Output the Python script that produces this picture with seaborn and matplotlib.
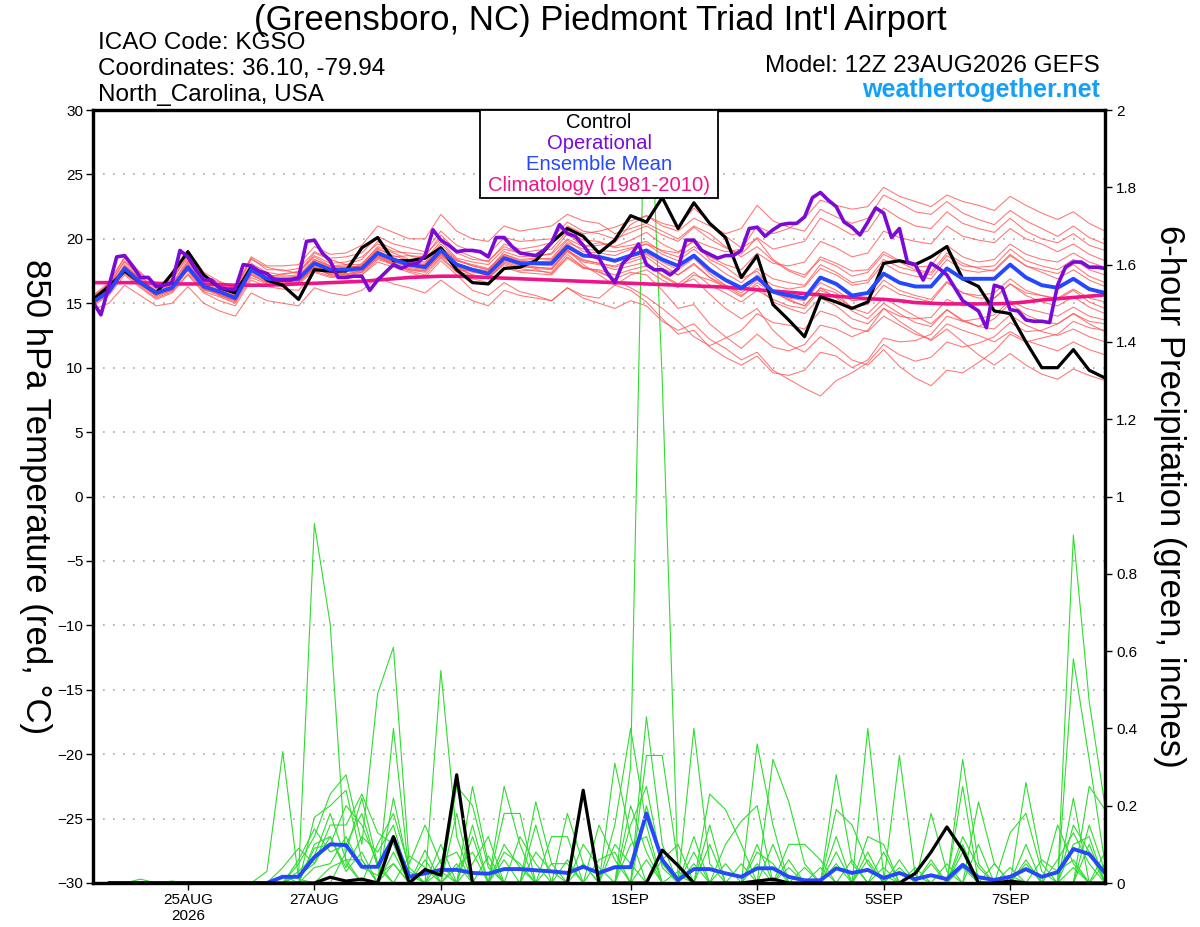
import numpy as np
import pandas as pd
import matplotlib
matplotlib.use("Agg")
import matplotlib.pyplot as plt
from matplotlib.patches import Rectangle
from matplotlib.ticker import FuncFormatter
import seaborn as sns

sns.set_style("ticks")
plt.rcParams['font.family'] = ['Liberation Sans', 'DejaVu Sans']
plt.rcParams['text.color'] = 'black'
plt.rcParams['axes.labelcolor'] = 'black'
plt.rcParams['xtick.color'] = 'black'
plt.rcParams['ytick.color'] = 'black'

# =========================
# DATA (12Z 23AUG2026 run)
# =========================
run_start = pd.Timestamp("2026-08-23 12:00")
tick_dates = ["2026-08-25", "2026-08-27", "2026-08-29", "2026-09-01",
              "2026-09-03", "2026-09-05", "2026-09-07"]
tick_labels = ["25AUG\n2026", "27AUG", "29AUG", "1SEP", "3SEP", "5SEP", "7SEP"]

# 850 hPa temperature, 6-hourly, 0..384 h
control_temp = [15.3, 16.3, 17.5, 16.6, 15.8, 17.3, 19.0, 17.2, 16.2, 15.8, 17.8, 16.8, 16.4,
                15.3, 17.6, 17.5, 17.5, 19.3, 20.1, 18.3, 18.3, 18.5, 19.3, 17.6, 16.6, 16.5,
                17.7, 17.8, 18.3, 19.7, 20.8, 20.2, 18.9, 19.9, 21.8, 21.3, 23.2, 20.8, 22.8,
                21.2, 20.1, 17.0, 18.7, 14.9, 13.7, 12.4, 15.5, 15.1, 14.6, 15.1, 18.1, 18.3,
                18.0, 18.6, 19.4, 16.9, 16.3, 14.4, 14.2, 12.0, 10.0, 10.0, 11.4, 9.8, 9.2]

mean_temp = [15.1, 15.9, 17.7, 16.6, 15.8, 16.2, 17.8, 16.3, 15.9, 15.4, 17.6, 16.9, 16.8,
             16.9, 18.1, 17.6, 17.6, 17.7, 18.9, 18.4, 18.0, 17.8, 19.1, 18.0, 17.6, 17.3,
             18.5, 18.1, 18.1, 18.1, 19.4, 18.7, 18.6, 18.3, 18.7, 19.1, 18.4, 17.9, 18.7,
             17.6, 16.8, 16.2, 17.0, 15.9, 15.6, 15.4, 17.0, 16.5, 15.6, 15.8, 17.3, 16.6,
             16.3, 16.3, 17.7, 16.9, 16.9, 16.9, 18.0, 17.0, 16.4, 16.2, 16.9, 16.1, 15.8]

climo_temp = [16.6, 16.6, 16.6, 16.6, 16.55, 16.5, 16.5, 16.5, 16.45, 16.4, 16.4, 16.4, 16.45,
              16.5, 16.55, 16.6, 16.65, 16.7, 16.8, 16.9, 17.0, 17.05, 17.1, 17.1, 17.05, 17.0,
              16.95, 16.9, 16.85, 16.8, 16.75, 16.7, 16.65, 16.6, 16.55, 16.5, 16.45, 16.4, 16.35,
              16.3, 16.25, 16.15, 16.05, 15.95, 15.85, 15.75, 15.65, 15.55, 15.45, 15.35, 15.3, 15.2,
              15.05, 15.0, 14.95, 14.95, 14.95, 14.95, 15.0, 15.1, 15.25, 15.35, 15.45, 15.55, 15.65]

# operational run, 3-hourly, 0..384 h
oper_temp = [15.1, 14.1, 16.3, 18.6, 18.7, 17.9, 17.0, 17.0, 16.3, 16.4, 16.6, 19.1, 18.6,
             17.6, 16.8, 16.8, 16.2, 16.1, 16.1, 18.0, 17.9, 17.5, 17.3, 16.8, 16.8, 16.8,
             17.0, 19.8, 19.9, 18.9, 18.3, 17.0, 17.0, 17.1, 17.1, 16.0, 16.8, 17.4, 18.0,
             17.7, 18.0, 18.1, 18.7, 20.7, 19.9, 19.5, 19.0, 19.1, 19.1, 19.0, 18.6, 20.1,
             20.1, 19.4, 18.9, 18.8, 18.7, 19.1, 19.7, 21.1, 20.4, 20.2, 19.5, 18.7, 18.5,
             17.4, 16.6, 18.1, 18.7, 19.6, 18.0, 17.6, 17.6, 17.2, 17.7, 19.9, 19.9, 19.1,
             18.8, 18.5, 18.7, 18.7, 19.1, 20.8, 20.9, 20.2, 20.7, 21.1, 21.2, 21.2, 21.7,
             23.2, 23.6, 23.0, 22.5, 21.3, 20.9, 20.3, 21.3, 22.4, 22.0, 20.1, 20.8, 18.2,
             18.0, 16.8, 18.1, 17.7, 17.2, 16.2, 15.2, 14.8, 14.4, 13.1, 16.4, 16.2, 14.5,
             14.4, 13.7, 13.6, 13.6, 13.5, 16.4, 17.8, 18.2, 18.2, 17.8, 17.8, 17.7]

# ensemble members, 6-hourly
temp_members = [
    [15.4, 16.5, 18.2, 17.0, 16.2, 16.9, 18.6, 17.0, 16.4, 16.0, 18.4, 17.8, 17.5, 17.7, 19.0, 18.5, 18.6,
     18.9, 20.2, 19.6, 19.3, 19.0, 20.6, 19.5, 19.0, 18.8, 20.1, 19.8, 19.9, 20.0, 21.3, 20.6, 20.4,
     20.0, 20.5, 21.0, 20.3, 19.8, 20.9, 20.0, 19.3, 18.8, 20.1, 19.2, 19.5, 19.8, 21.6, 21.0, 20.3,
     20.6, 22.4, 21.6, 21.0, 20.8, 22.1, 21.2, 20.8, 20.5, 21.6, 20.6, 20.0, 19.7, 20.4, 19.5, 19.1],
    [14.8, 15.6, 17.2, 16.2, 15.3, 15.8, 17.2, 15.8, 15.2, 14.8, 16.8, 16.3, 16.1, 16.0, 17.4, 17.0, 17.1,
     17.2, 18.2, 17.8, 17.4, 17.0, 18.3, 17.2, 16.0, 15.6, 16.6, 15.9, 15.6, 15.2, 16.2, 15.4, 15.0,
     14.6, 15.2, 14.8, 13.6, 12.9, 13.4, 12.2, 11.5, 10.6, 11.2, 9.8, 9.1, 8.4, 7.8, 9.0, 9.6,
     10.4, 11.8, 11.0, 10.5, 10.8, 12.0, 11.6, 11.9, 12.4, 13.5, 12.8, 12.9, 13.4, 14.2, 13.6, 13.4],
    [15.0, 16.0, 18.0, 16.9, 15.9, 16.0, 18.3, 16.6, 15.6, 15.2, 17.9, 17.0, 17.3, 17.4, 18.6, 17.9, 17.4,
     18.1, 19.3, 18.6, 18.7, 18.4, 19.8, 18.5, 18.2, 18.0, 19.2, 18.9, 18.6, 18.9, 20.4, 19.4, 19.7,
     19.4, 19.9, 20.5, 19.6, 19.0, 19.8, 18.4, 17.8, 16.9, 17.5, 16.0, 15.2, 14.8, 16.2, 15.8, 14.6,
     14.2, 15.4, 14.7, 14.0, 13.4, 14.5, 13.6, 13.2, 13.8, 15.0, 14.1, 13.6, 13.4, 14.2, 13.4, 12.8],
    [15.5, 16.2, 17.3, 16.4, 15.6, 16.5, 17.5, 16.0, 15.8, 15.6, 17.2, 16.6, 16.4, 16.7, 17.8, 17.2, 17.5,
     17.4, 18.6, 18.0, 17.6, 17.5, 18.8, 17.8, 17.2, 17.0, 18.0, 17.5, 17.6, 17.3, 18.6, 17.8, 17.5,
     16.8, 16.2, 15.5, 14.6, 13.6, 12.4, 11.7, 12.3, 12.9, 14.2, 13.5, 13.3, 13.0, 14.4, 14.0, 13.1,
     12.8, 14.0, 13.3, 12.6, 12.2, 13.4, 12.9, 12.5, 12.0, 12.8, 12.1, 11.7, 11.3, 12.0, 11.4, 11.0],
    [15.2, 16.6, 18.5, 17.3, 16.4, 16.7, 18.8, 17.2, 16.6, 16.1, 18.5, 17.6, 17.6, 17.3, 18.9, 18.4, 18.0,
     18.4, 19.8, 19.2, 18.7, 18.6, 20.3, 19.1, 18.6, 18.2, 19.6, 19.2, 19.4, 19.7, 21.0, 20.4, 20.6,
     20.9, 21.4, 21.8, 21.0, 20.6, 21.6, 21.0, 20.4, 20.8, 22.6, 21.4, 20.9, 20.6, 22.3, 21.7, 21.2,
     21.6, 23.4, 22.8, 22.1, 21.9, 22.9, 22.0, 21.5, 21.1, 22.2, 21.4, 20.8, 20.2, 21.0, 20.1, 19.6],
    [14.9, 15.7, 17.5, 16.5, 15.5, 16.0, 17.6, 16.2, 15.7, 15.3, 17.4, 16.8, 16.5, 16.8, 17.9, 17.4, 17.3,
     17.5, 18.7, 18.2, 17.8, 17.6, 18.9, 17.6, 17.5, 17.1, 18.3, 17.9, 17.7, 17.6, 19.0, 18.2, 18.0,
     17.6, 17.9, 18.2, 17.1, 16.4, 16.9, 15.7, 14.6, 13.8, 14.6, 12.9, 11.8, 11.2, 12.4, 11.6, 10.6,
     10.2, 11.4, 10.1, 9.2, 8.6, 9.8, 9.6, 10.4, 11.3, 12.6, 12.0, 12.3, 12.6, 13.6, 13.1, 12.9],
    [15.0, 15.8, 17.4, 16.3, 15.4, 15.9, 17.3, 15.9, 15.5, 15.0, 17.0, 16.5, 16.3, 16.5, 17.5, 17.1, 17.0,
     17.2, 18.4, 18.0, 17.5, 17.2, 18.5, 17.4, 16.9, 16.6, 17.8, 17.4, 17.3, 17.2, 18.5, 17.7, 17.6,
     17.2, 17.6, 17.9, 17.2, 16.5, 17.4, 16.4, 15.8, 15.1, 16.0, 15.3, 14.8, 14.6, 16.0, 15.5, 14.7,
     14.9, 16.4, 15.7, 15.4, 15.1, 16.6, 15.8, 15.6, 15.8, 16.9, 16.0, 15.6, 15.3, 16.0, 15.1, 14.6],
    [15.6, 16.4, 17.9, 16.8, 16.0, 16.6, 18.2, 16.8, 16.2, 15.8, 17.8, 17.2, 17.1, 17.2, 18.4, 17.9, 18.0,
     18.0, 19.4, 18.9, 18.4, 18.2, 19.6, 18.4, 17.9, 17.6, 19.0, 18.6, 18.7, 18.8, 20.0, 19.4, 19.5,
     19.7, 21.1, 21.8, 21.2, 20.9, 22.4, 21.3, 20.2, 19.3, 20.0, 18.4, 17.6, 17.2, 18.4, 17.9, 17.1,
     17.4, 18.8, 18.2, 17.6, 17.4, 18.9, 18.1, 17.7, 17.5, 18.7, 17.9, 17.4, 16.9, 17.6, 16.8, 16.3],
    [15.3, 16.1, 17.8, 16.7, 15.8, 16.3, 17.9, 16.4, 16.0, 15.5, 17.5, 17.0, 16.9, 16.9, 18.2, 17.6, 17.8,
     17.8, 19.0, 18.5, 18.1, 18.0, 19.2, 18.0, 17.6, 17.4, 18.6, 18.2, 18.2, 18.3, 19.6, 18.8, 18.7,
     18.2, 18.6, 18.9, 18.2, 17.6, 18.5, 17.3, 16.4, 15.6, 16.4, 15.1, 14.6, 14.2, 15.4, 14.8, 13.8,
     13.4, 14.6, 13.6, 12.8, 12.1, 13.0, 12.0, 11.0, 10.2, 11.1, 10.2, 9.5, 9.1, 9.9, 9.4, 9.0],
    [15.1, 16.3, 18.3, 17.1, 16.1, 16.4, 18.5, 16.9, 16.3, 15.9, 18.1, 17.4, 17.2, 17.5, 18.7, 18.1, 18.2,
     18.6, 19.6, 19.0, 18.9, 18.8, 20.0, 18.9, 18.4, 18.3, 19.4, 18.9, 19.1, 19.2, 20.6, 19.9, 19.8,
     19.3, 19.5, 19.8, 19.0, 18.6, 19.4, 18.6, 18.0, 17.6, 18.9, 18.1, 17.9, 18.2, 19.8, 19.3, 18.6,
     18.9, 20.6, 20.1, 19.8, 19.6, 21.0, 20.2, 19.9, 19.7, 20.8, 20.0, 19.6, 19.0, 19.6, 18.8, 18.3],
    [14.5, 15.0, 16.4, 15.6, 14.8, 15.0, 16.3, 15.0, 14.4, 14.0, 15.8, 15.2, 15.0, 14.8, 16.2, 15.8, 15.6,
     16.0, 17.0, 16.5, 16.2, 15.8, 16.8, 15.9, 15.2, 14.8, 16.0, 15.6, 15.4, 15.2, 16.2, 15.6, 15.4,
     16.4, 17.2, 17.6, 16.8, 16.2, 17.2, 16.8, 16.3, 16.0, 17.2, 16.4, 16.1, 16.3, 17.7, 17.2, 16.4,
     16.6, 18.1, 17.4, 17.1, 16.9, 18.4, 17.6, 17.4, 17.6, 18.8, 17.9, 17.6, 17.3, 18.0, 17.1, 16.6],
    [15.4, 16.0, 17.6, 16.6, 15.9, 16.4, 18.0, 16.5, 15.9, 15.6, 17.6, 16.9, 16.7, 16.9, 18.2, 17.8, 17.9,
     17.8, 18.8, 18.3, 18.0, 17.9, 19.3, 18.3, 18.0, 17.7, 18.8, 18.4, 18.5, 18.4, 19.7, 19.2, 19.1,
     19.0, 19.3, 19.6, 19.1, 18.9, 19.9, 19.4, 19.0, 19.2, 21.0, 20.4, 20.8, 21.6, 23.0, 22.6, 22.3,
     22.5, 24.0, 23.3, 22.9, 22.5, 23.4, 22.9, 22.6, 22.2, 23.3, 22.6, 22.0, 21.5, 22.1, 21.2, 20.6],
    [15.2, 15.9, 17.6, 16.5, 15.7, 16.1, 17.7, 16.1, 15.7, 15.2, 17.3, 16.7, 16.6, 16.6, 17.7, 17.2, 17.1,
     17.4, 18.5, 18.1, 17.6, 17.4, 18.6, 17.5, 17.1, 16.9, 18.1, 17.7, 17.5, 17.4, 18.8, 17.8, 17.4,
     16.9, 17.4, 17.2, 16.0, 14.6, 14.9, 13.4, 12.4, 11.5, 12.6, 11.6, 11.3, 11.8, 13.3, 13.0, 12.4,
     12.9, 14.6, 14.0, 13.8, 13.9, 15.3, 14.8, 14.9, 15.4, 16.5, 15.8, 15.6, 15.4, 16.1, 15.4, 15.1],
    [15.6, 16.6, 18.6, 17.4, 16.3, 16.8, 19.1, 17.4, 16.7, 16.2, 18.6, 17.9, 17.9, 18.0, 19.4, 18.8, 18.9,
     19.5, 21.0, 20.5, 20.0, 20.0, 21.9, 20.6, 20.0, 19.8, 21.0, 20.6, 20.8, 21.0, 21.9, 21.4, 21.2,
     20.4, 20.8, 21.2, 20.6, 20.0, 21.0, 20.4, 19.4, 18.6, 19.4, 18.3, 17.5, 17.0, 18.6, 18.1, 17.5,
     17.6, 19.0, 18.3, 17.8, 17.9, 19.5, 18.6, 18.2, 18.4, 19.6, 18.8, 18.4, 18.2, 18.9, 18.2, 17.8],
    [14.9, 15.9, 17.7, 16.6, 15.6, 16.2, 17.8, 16.3, 15.8, 15.4, 17.5, 16.8, 16.8, 16.7, 17.8, 17.4, 17.2,
     17.6, 18.7, 18.2, 17.9, 17.7, 18.7, 17.8, 17.4, 17.2, 18.4, 18.0, 17.8, 17.7, 19.1, 18.4, 18.1,
     17.9, 18.4, 18.8, 18.0, 17.2, 18.0, 17.0, 16.2, 15.5, 16.6, 15.8, 15.3, 14.8, 16.2, 15.4, 14.4,
     13.8, 15.0, 14.2, 13.5, 13.2, 14.5, 13.7, 13.2, 13.0, 14.1, 13.3, 12.8, 12.5, 13.0, 12.4, 12.0],
    [15.3, 16.2, 17.8, 16.8, 15.9, 16.2, 17.9, 16.5, 16.0, 15.6, 17.7, 17.1, 16.9, 17.0, 18.3, 17.7, 17.6,
     17.9, 19.1, 18.4, 18.2, 18.0, 19.3, 18.1, 17.7, 17.5, 18.7, 18.2, 18.0, 17.9, 19.2, 18.0, 17.2,
     16.4, 16.0, 15.1, 13.8, 12.6, 12.9, 11.6, 10.8, 10.2, 10.9, 9.6, 9.4, 9.8, 11.2, 10.9, 10.0,
     10.6, 12.3, 12.0, 12.1, 12.6, 14.0, 13.6, 13.8, 14.1, 15.2, 14.6, 14.3, 14.0, 14.7, 14.0, 13.7],
    [15.0, 16.2, 17.9, 16.9, 15.9, 16.3, 18.1, 16.6, 16.1, 15.7, 17.8, 17.1, 17.0, 17.1, 18.4, 17.8, 17.8,
     17.9, 19.2, 18.7, 18.3, 18.1, 19.4, 18.3, 17.9, 17.6, 18.8, 18.3, 18.4, 18.5, 19.9, 19.0, 18.9,
     18.7, 19.2, 19.6, 18.8, 18.3, 19.2, 18.2, 17.3, 16.6, 17.7, 16.9, 16.6, 16.4, 18.0, 17.4, 16.6,
     16.8, 18.4, 17.8, 17.5, 17.2, 18.7, 17.9, 17.8, 17.9, 19.2, 18.3, 17.9, 17.6, 18.4, 17.6, 17.2],
    [15.2, 15.8, 17.5, 16.4, 15.6, 16.0, 17.6, 16.1, 15.6, 15.1, 17.2, 16.6, 16.5, 16.6, 17.7, 17.3, 17.2,
     17.4, 18.6, 18.1, 17.7, 17.5, 18.8, 17.7, 17.2, 17.0, 18.2, 17.8, 17.8, 17.7, 19.1, 18.3, 18.1,
     17.8, 18.2, 18.6, 17.7, 17.2, 18.1, 17.0, 16.4, 15.8, 16.8, 15.9, 15.4, 15.2, 16.6, 16.0, 15.2,
     15.3, 16.8, 16.0, 15.6, 15.3, 16.7, 15.8, 15.4, 15.4, 16.5, 15.6, 15.1, 14.8, 15.5, 14.7, 14.2],
]

# 6-hour precipitation (inches), 6..384 h
control_pcp = [0, 0, 0, 0, 0, 0, 0, 0, 0, 0, 0, 0, 0, 0, 0.015, 0.005,
               0.01, 0, 0.12, 0, 0.035, 0.02, 0.28, 0, 0, 0, 0, 0, 0, 0, 0.24, 0,
               0, 0, 0, 0.085, 0.045, 0, 0, 0, 0, 0.005, 0.01, 0, 0, 0, 0, 0,
               0, 0, 0, 0.025, 0.08, 0.145, 0.085, 0, 0, 0.005, 0, 0, 0, 0, 0, 0]

mean_pcp = [0, 0, 0, 0, 0, 0, 0, 0, 0, 0, 0, 0.016, 0.016, 0.067, 0.10, 0.098,
            0.042, 0.042, 0.117, 0.016, 0.025, 0.034, 0.034, 0.026, 0.024, 0.036, 0.036, 0.033, 0.03, 0.026, 0.042, 0.026,
            0.041, 0.041, 0.18, 0.06, 0.008, 0.036, 0.036, 0.025, 0.016, 0.038, 0.038, 0.016, 0.007, 0.007, 0.038, 0.026,
            0.034, 0.013, 0.026, 0.01, 0.02, 0.01, 0.047, 0.015, 0.008, 0.016, 0.036, 0.016, 0.028, 0.088, 0.075, 0.026]

pcp_members = [
    [0, 0, 0, 0, 0, 0, 0, 0, 0, 0, 0.03, 0.34, 0.01, 0, 0, 0.08,
     0.22, 0.05, 0, 0, 0, 0.55, 0.12, 0, 0, 0.06, 0, 0, 0, 0, 0, 0,
     0.31, 0.12, 0, 0, 0, 0.40, 0.05, 0, 0, 0, 0, 0, 0, 0, 0, 0,
     0.40, 0.02, 0, 0, 0, 0, 0.1, 0, 0, 0, 0, 0, 0, 0.90, 0.47, 0.2],
    [0, 0, 0, 0, 0, 0, 0, 0, 0, 0, 0, 0, 0.02, 0.93, 0.67, 0.05,
     0, 0, 0.22, 0.03, 0, 0, 0, 0.25, 0.05, 0, 0, 0, 0, 0, 0, 0,
     0, 0.30, 2.3, 1.3, 0.02, 0, 0, 0, 0, 0.1, 0, 0, 0, 0, 0.28, 0.05,
     0, 0, 0, 0, 0, 0, 0.32, 0.05, 0, 0, 0, 0, 0.06, 0.13, 0.05, 0],
    [0, 0, 0, 0, 0, 0, 0, 0, 0, 0, 0, 0, 0.05, 0.12, 0.23, 0.28,
     0.1, 0.49, 0.61, 0.05, 0.15, 0.05, 0, 0, 0, 0.25, 0.1, 0, 0, 0, 0, 0,
     0, 0, 0.43, 0.1, 0, 0, 0, 0, 0, 0.36, 0.15, 0, 0, 0, 0, 0,
     0, 0, 0.33, 0.02, 0, 0, 0, 0, 0, 0, 0.26, 0.05, 0, 0.58, 0.32, 0.05],
    [0, 0, 0, 0, 0, 0, 0, 0, 0, 0, 0, 0, 0, 0.17, 0.2, 0.24,
     0.06, 0, 0.40, 0.02, 0, 0, 0.25, 0.2, 0.04, 0, 0, 0.21, 0.05, 0, 0, 0,
     0.15, 0.4, 0.15, 0, 0, 0, 0, 0, 0, 0, 0.32, 0.21, 0.05, 0, 0, 0,
     0, 0, 0, 0, 0.18, 0.03, 0, 0, 0, 0, 0, 0, 0, 0.1, 0.12, 0],
    [0, 0, 0, 0, 0, 0, 0, 0, 0, 0, 0, 0.04, 0.09, 0.05, 0.15, 0.15,
     0.23, 0.13, 0.1, 0, 0.085, 0, 0.18, 0, 0, 0.18, 0.18, 0, 0, 0.18, 0.05, 0,
     0, 0, 0.33, 0.33, 0.05, 0, 0.23, 0.19, 0.1, 0, 0, 0, 0, 0, 0.19, 0.15,
     0.05, 0, 0, 0, 0, 0, 0, 0.21, 0.05, 0, 0, 0, 0, 0, 0.25, 0.19],
    [0, 0, 0, 0, 0, 0, 0, 0, 0, 0, 0, 0.02, 0, 0.1, 0.12, 0.04,
     0.12, 0.08, 0.15, 0, 0, 0.1, 0, 0.12, 0, 0, 0, 0, 0.12, 0.12, 0, 0.15,
     0.06, 0, 0, 0, 0, 0.12, 0, 0.1, 0.16, 0.2, 0, 0, 0, 0, 0, 0,
     0.12, 0.1, 0, 0, 0, 0, 0.25, 0, 0, 0.13, 0.18, 0.03, 0, 0.22, 0, 0],
    [0, 0, 0.01, 0, 0.005, 0, 0, 0, 0, 0, 0, 0, 0.06, 0.14, 0.08, 0.1,
     0.18, 0.04, 0, 0.07, 0.04, 0, 0, 0.05, 0.12, 0, 0, 0.15, 0, 0, 0.1, 0.04,
     0, 0.2, 0.08, 0, 0, 0, 0.15, 0, 0, 0, 0, 0.1, 0.1, 0.06, 0, 0,
     0, 0, 0.06, 0, 0.06, 0, 0.12, 0.04, 0, 0, 0, 0, 0.15, 0.05, 0, 0.08],
    [0, 0, 0, 0, 0, 0, 0, 0, 0, 0, 0, 0, 0.03, 0.07, 0.18, 0.06,
     0.06, 0, 0.08, 0, 0, 0.06, 0.08, 0, 0, 0.08, 0.05, 0, 0, 0.06, 0, 0,
     0.1, 0.05, 0, 0.06, 0.1, 0, 0, 0, 0, 0.08, 0.05, 0, 0, 0, 0.08, 0,
     0, 0.08, 0, 0, 0, 0.05, 0, 0, 0.05, 0, 0.06, 0, 0, 0, 0.1, 0],
    [0, 0, 0, 0, 0, 0, 0, 0, 0, 0, 0, 0, 0, 0.04, 0.05, 0.12,
     0.04, 0.02, 0.05, 0, 0.06, 0, 0.05, 0, 0.07, 0, 0, 0.08, 0.03, 0, 0.05, 0,
     0, 0.1, 0.12, 0, 0, 0.05, 0, 0.05, 0, 0, 0, 0.06, 0, 0.04, 0, 0.06,
     0, 0, 0, 0.04, 0, 0, 0.05, 0, 0, 0.04, 0, 0.06, 0.03, 0.06, 0, 0.05],
    [0, 0, 0, 0, 0, 0, 0, 0, 0, 0, 0, 0, 0, 0.09, 0.1, 0.2,
     0.15, 0.05, 0.12, 0, 0, 0, 0, 0.15, 0, 0.1, 0.04, 0, 0, 0, 0, 0.06,
     0.08, 0, 0.2, 0.05, 0, 0.08, 0, 0, 0, 0, 0.1, 0, 0, 0, 0.12, 0,
     0.06, 0, 0, 0, 0.05, 0, 0.08, 0, 0, 0, 0.1, 0, 0, 0.15, 0.08, 0],
    [0, 0, 0, 0, 0, 0, 0, 0, 0, 0, 0, 0, 0, 0, 0.04, 0.06,
     0, 0.1, 0.18, 0.04, 0, 0.03, 0, 0, 0, 0, 0.12, 0.05, 0, 0, 0, 0,
     0, 0.15, 0.25, 0.04, 0, 0, 0.1, 0, 0.05, 0, 0, 0, 0.04, 0, 0, 0,
     0.08, 0, 0.04, 0, 0, 0, 0, 0.1, 0, 0.02, 0, 0, 0, 0, 0.15, 0.03],
    [0, 0, 0, 0, 0, 0, 0, 0, 0, 0, 0, 0, 0.02, 0.05, 0.12, 0.03,
     0.08, 0, 0.05, 0, 0, 0, 0.04, 0.08, 0, 0, 0, 0, 0.05, 0.05, 0, 0,
     0, 0, 0.06, 0, 0.03, 0, 0, 0, 0, 0.05, 0, 0.04, 0, 0, 0.05, 0,
     0, 0.04, 0, 0, 0, 0, 0.04, 0, 0, 0, 0.05, 0, 0, 0.04, 0, 0],
]

# =========================
# COLORS / STYLE
# =========================
c_member = "#ff5252"
c_pcp = "#2fdc2f"
c_control = "black"
c_oper = "#7c0ad6"
c_mean = "#2447ff"
c_climo = "#ef1589"

hours_6h = np.arange(0, 385, 6)
hours_3h = np.arange(0, 385, 3)
hours_pcp = np.arange(6, 385, 6)

temp_df = pd.DataFrame({
    "hour": np.tile(hours_6h, len(temp_members)),
    "temp": np.concatenate(temp_members),
    "member": np.repeat(np.arange(len(temp_members)), len(hours_6h)),
})
pcp_df = pd.DataFrame({
    "hour": np.tile(hours_pcp, len(pcp_members)),
    "pcp": np.concatenate(pcp_members),
    "member": np.repeat(np.arange(len(pcp_members)), len(hours_pcp)),
})

fig = plt.figure(figsize=(12, 9.27), dpi=100)
ax = fig.add_axes([93 / 1200, 1 - 883 / 927, 1012 / 1200, 773 / 927])
ax2 = ax.twinx()
ax.set_zorder(ax2.get_zorder() + 1)
ax.patch.set_visible(False)

# precipitation (right axis)
sns.lineplot(data=pcp_df, x="hour", y="pcp", units="member", estimator=None,
             color=c_pcp, linewidth=0.8, ax=ax2, legend=False)
sns.lineplot(x=hours_pcp, y=mean_pcp, estimator=None, color=c_mean, linewidth=2.8, ax=ax2)
sns.lineplot(x=hours_pcp, y=control_pcp, estimator=None, color=c_control, linewidth=2.3, ax=ax2)

# temperature (left axis)
sns.lineplot(data=temp_df, x="hour", y="temp", units="member", estimator=None,
             color=c_member, linewidth=0.75, alpha=0.8, ax=ax, legend=False)
sns.lineplot(x=hours_6h, y=climo_temp, estimator=None, color=c_climo, linewidth=2.6, ax=ax)
sns.lineplot(x=hours_6h, y=control_temp, estimator=None, color=c_control, linewidth=2.3, ax=ax)
sns.lineplot(x=hours_6h, y=mean_temp, estimator=None, color=c_mean, linewidth=2.8, ax=ax)
sns.lineplot(x=hours_3h, y=oper_temp, estimator=None, color=c_oper, linewidth=2.6, ax=ax)

# axes limits / ticks
ax.set_xlim(0, 384)
ax.set_ylim(-30, 30)
ax2.set_ylim(0, 2)
ax.set_yticks(np.arange(-30, 31, 5))
ax2.set_yticks(np.arange(0, 2.01, 0.2))
ax2.yaxis.set_major_formatter(FuncFormatter(lambda v, p: f"{v:g}"))
tick_pos = [(pd.Timestamp(d) - run_start) / pd.Timedelta(hours=1) for d in tick_dates]
ax.set_xticks(tick_pos)
ax.set_xticklabels(tick_labels)
ax.yaxis.grid(True, linestyle=(0, (1, 5)), color="#a8a8a8", linewidth=1.2)

ax.tick_params(axis="both", labelsize=11, length=5, width=1, direction="out", pad=2,
               colors="black")
ax2.tick_params(axis="y", labelsize=11, length=5, width=1, direction="out", pad=3,
                colors="black")
for a in (ax, ax2):
    for s in a.spines.values():
        s.set_linewidth(2.3)
        s.set_color("black")

ax.set_xlabel("")
ax.set_ylabel("850 hPa Temperature (red, °C)", fontsize=25, rotation=270,
              va="center", ha="center", color="black")
ax.yaxis.set_label_coords(-0.057, 0.50)
ax2.set_ylabel("6-hour Precipitation (green, inches)", fontsize=25, rotation=270,
               va="center", ha="center", color="black")
ax2.yaxis.set_label_coords(1.064, 0.50)

# legend box
leg_x0 = (480 - 93) / 1012
leg_x1 = (718 - 93) / 1012
leg_y0 = (883 - 198) / 773
ax.add_patch(Rectangle((leg_x0, leg_y0), leg_x1 - leg_x0, 1 - leg_y0, transform=ax.transAxes,
                       facecolor="white", edgecolor="black", linewidth=1.3, zorder=20,
                       clip_on=False))
legend_items = [("Control", c_control), ("Operational", c_oper),
                ("Ensemble Mean", c_mean), ("Climatology (1981-2010)", c_climo)]
for i, (label, col) in enumerate(legend_items):
    ypix = 122 + 21.2 * i
    ax.text(0.5 * (leg_x0 + leg_x1), (883 - ypix) / 773, label, transform=ax.transAxes,
            ha="center", va="center", fontsize=14.6, color=col, zorder=21)

# header text
fig.text(0.5, 1 - 30 / 927, "(Greensboro, NC) Piedmont Triad Int'l Airport",
         ha="center", va="baseline", fontsize=25, color="black")
fig.text(98 / 1200, 1 - 49 / 927, "ICAO Code: KGSO", ha="left", va="baseline", fontsize=17.5)
fig.text(98 / 1200, 1 - 75 / 927, "Coordinates: 36.10, -79.94", ha="left", va="baseline", fontsize=17.5)
fig.text(98 / 1200, 1 - 101 / 927, "North_Carolina, USA", ha="left", va="baseline", fontsize=17.5)
fig.text(1100 / 1200, 1 - 72 / 927, "Model: 12Z 23AUG2026 GEFS", ha="right", va="baseline", fontsize=17.5)
fig.text(1100 / 1200, 1 - 97 / 927, "weathertogether.net", ha="right", va="baseline",
         fontsize=18, fontweight="bold", color="#16a0f5")

fig.savefig("out.png", dpi=100)
